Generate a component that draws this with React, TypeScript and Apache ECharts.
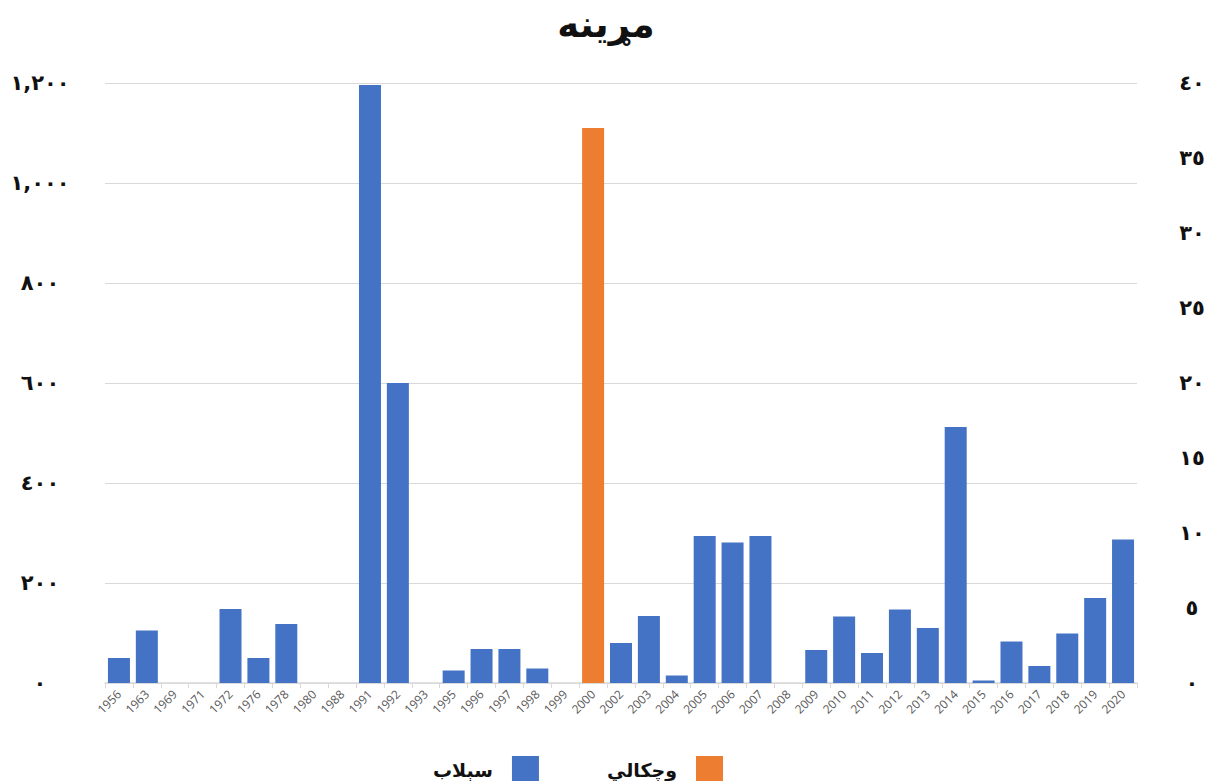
import React, { useEffect, useRef } from "react";
import * as echarts from "echarts";

const categories = [
  "1956", "1963", "1969", "1971", "1972", "1976", "1978", "1980", "1988", "1991",
  "1992", "1993", "1995", "1996", "1997", "1998", "1999", "2000", "2002", "2003",
  "2004", "2005", "2006", "2007", "2008", "2009", "2010", "2011", "2012", "2013",
  "2014", "2015", "2016", "2017", "2018", "2019", "2020",
];

// سېلاب (flood) deaths – left axis
const floodValues: (number | string)[] = [
  50, 105, "-", "-", 148, 50, 118, "-", "-", 1196,
  600, "-", 25, 68, 68, 29, "-", "-", 80, 134,
  15, 294, 281, 294, "-", 66, 133, 60, 147, 110,
  512, 5, 83, 34, 99, 170, 287,
];

// وچکالي (drought) deaths – right axis
const droughtValues: (number | string)[] = categories.map((c) => (c === "2000" ? 37 : "-"));

const leftTicks = { min: 0, max: 1200, interval: 200 };
const rightTicks = { min: 0, max: 40, interval: 5 };

const arabicDigits = ["٠", "١", "٢", "٣", "٤", "٥", "٦", "٧", "٨", "٩"];
function toArabic(v: number): string {
  const s = Math.round(v).toString().replace(/\B(?=(\d{3})+(?!\d))/g, ",");
  return s.replace(/\d/g, (d) => arabicDigits[Number(d)]);
}

const arFont = "'DejaVu Sans', 'Noto Sans', sans-serif";

export default function App() {
  const ref = useRef<HTMLDivElement>(null);
  useEffect(() => {
    document.body.style.margin = "0";
    const chart = echarts.init(ref.current!, undefined, { renderer: "svg" });
    chart.setOption({
      animation: false,
      backgroundColor: "#ffffff",
      title: {
        text: "مړینه",
        left: "center",
        top: 1,
        textStyle: { fontFamily: arFont, fontSize: 37, fontWeight: "bold", color: "#111" },
      },
      legend: {
        data: ["سېلاب", "وچکالي"],
        left: 428,
        top: 751,
        align: "right",
        itemWidth: 27,
        itemHeight: 27,
        itemGap: 68,
        icon: "rect",
        textStyle: {
          fontFamily: arFont,
          fontSize: 19,
          fontWeight: "bold",
          color: "#111",
          padding: [0, 14, 0, 0],
        },
      },
      grid: { left: 105, right: 75, top: 83, bottom: 98, containLabel: false, outerBoundsMode: "none" },
      xAxis: {
        type: "category",
        data: categories,
        axisLine: { show: true, lineStyle: { color: "#d9d9d9", width: 1.5 } },
        axisTick: { show: true, length: 5, lineStyle: { color: "#d9d9d9" } },
        axisLabel: {
          interval: 0,
          rotate: 45,
          fontSize: 12,
          color: "#595959",
          fontFamily: "'Open Sans', sans-serif",
          margin: 9,
        },
      },
      yAxis: [
        {
          type: "value",
          min: leftTicks.min,
          max: leftTicks.max,
          interval: leftTicks.interval,
          axisLine: { show: false },
          axisTick: { show: false },
          splitLine: { show: true, lineStyle: { color: "#d9d9d9", width: 1 } },
          axisLabel: {
            formatter: (v: number) => toArabic(v),
            fontFamily: arFont,
            fontSize: 21,
            fontWeight: "bold",
            color: "#111",
            align: "center",
            margin: 65,
          },
        },
        {
          type: "value",
          min: rightTicks.min,
          max: rightTicks.max,
          interval: rightTicks.interval,
          axisLine: { show: false },
          axisTick: { show: false },
          splitLine: { show: false },
          axisLabel: {
            formatter: (v: number) => toArabic(v),
            fontFamily: arFont,
            fontSize: 21,
            fontWeight: "bold",
            color: "#111",
            align: "center",
            margin: 55,
          },
        },
      ],
      series: [
        {
          name: "سېلاب",
          type: "bar",
          yAxisIndex: 0,
          data: floodValues,
          barWidth: 22,
          barGap: "-100%",
          itemStyle: { color: "#4472C4" },
        },
        {
          name: "وچکالي",
          type: "bar",
          yAxisIndex: 1,
          data: droughtValues,
          barWidth: 22,
          barGap: "-100%",
          itemStyle: { color: "#ED7D31" },
        },
      ],
    });
    return () => chart.dispose();
  }, []);
  return (
    <div
      ref={ref}
      style={{ position: "absolute", left: 0, top: 0, width: 1212, height: 781 }}
    />
  );
}
